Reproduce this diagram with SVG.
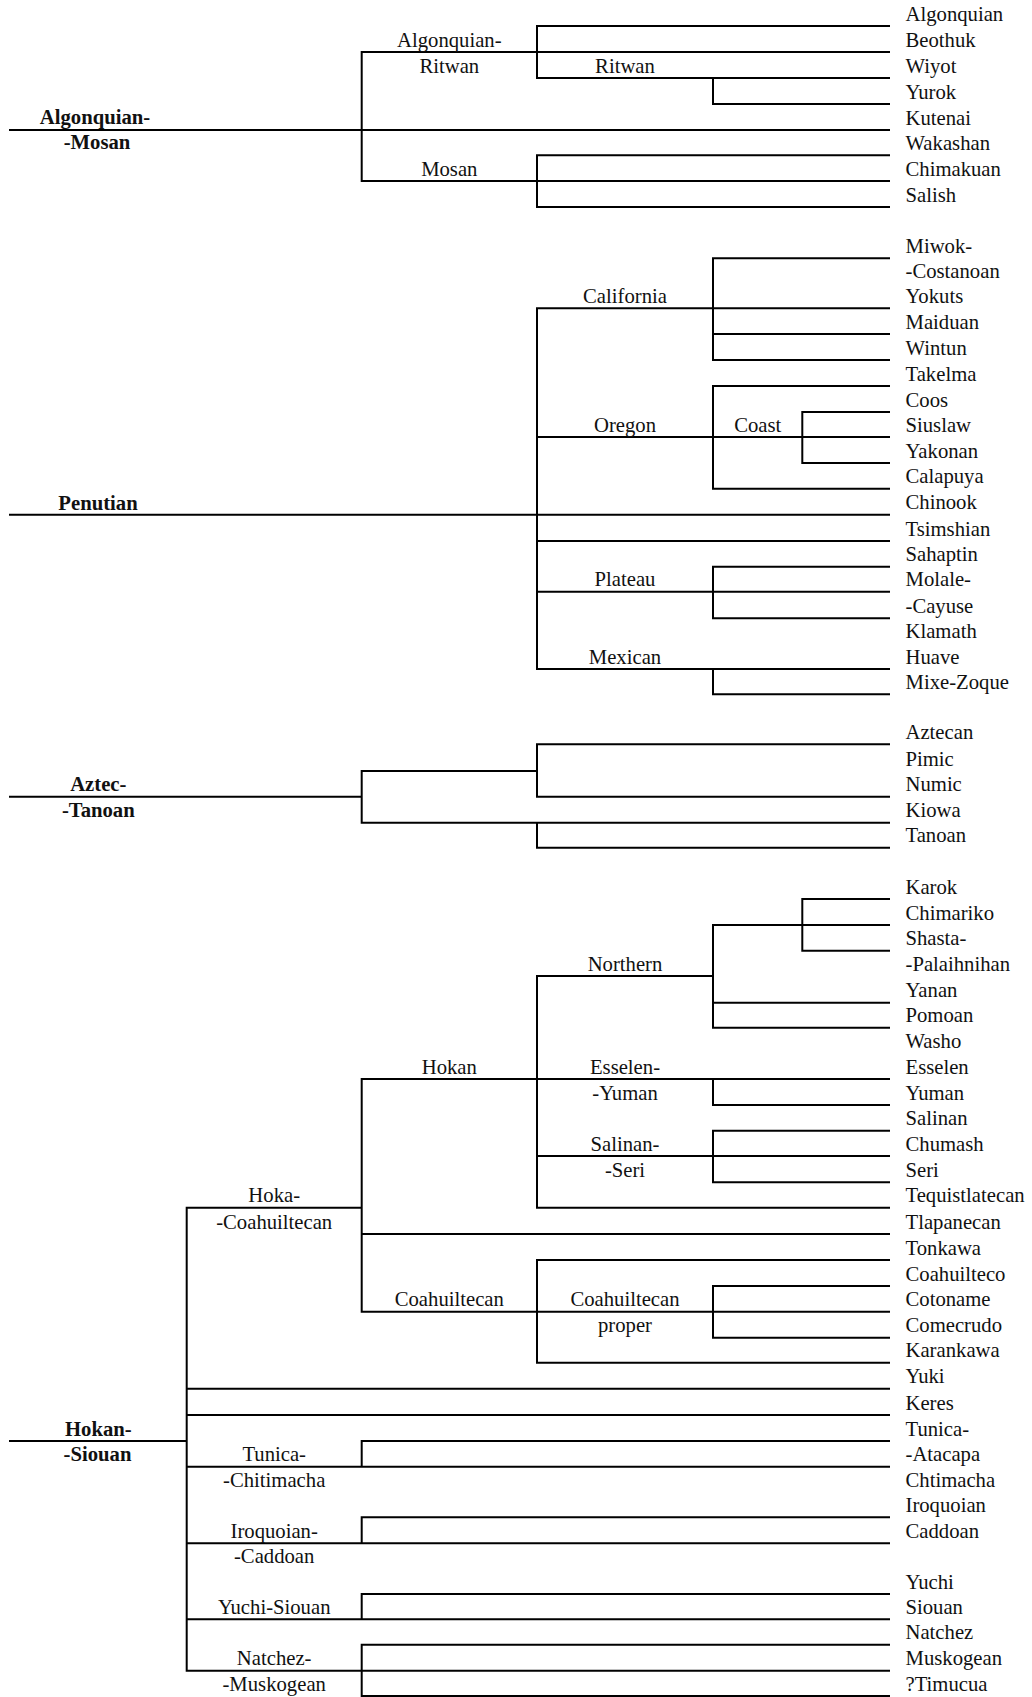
<svg xmlns="http://www.w3.org/2000/svg" width="1032" height="1697" viewBox="0 0 1032 1697">
<style>
text{font-family:"Liberation Serif","Times New Roman",serif;font-size:20.7px;fill:#111}
.leaf{text-anchor:start}
.grp{text-anchor:middle}
.fam{text-anchor:middle;font-weight:bold}
.c path{fill:none;stroke:#000;stroke-width:2;stroke-linecap:square}
</style>
<rect width="1032" height="1697" fill="#fff"/>
<g class="c" id="connectors">
<path d="M10,130H889M361.7,52V181M361.7,52H889M361.7,181H889M537,26V78M537,26H889M537,78H889M713,78V104H889M537,155.3V207M537,155.3H889M537,207H889"/>
<path d="M10,514.7H889M537,308.3V669M537,308.3H889M713,258.3V360M713,258.3H889M713,334H889M713,360H889M713,386V488.7M713,386H889M537,437H889M713,488.7H889M802.3,412V463M802.3,412H889M802.3,463H889M537,541H889M713,566.7V618.3M713,566.7H889M537,591.7H889M713,618.3H889M537,669H889M713,669V694.3H889"/>
<path d="M10,796.7H361.7M361.7,771V822.7M361.7,771H537M537,744.3V796.7M537,744.3H889M537,796.7H889M361.7,822.7H889M537,822.7V847.7H889"/>
<path d="M10,1441H186.7M186.7,1207.7V1670.7M186.7,1207.7H361.7M361.7,1079V1311.7M361.7,1079H889M537,976V1207.7M537,976H713M713,925V1027.7M713,925H889M713,1002.7H889M713,1027.7H889M802.3,899V950.7M802.3,899H889M802.3,950.7H889M713,1079V1105H889M713,1130.7V1182.3M713,1130.7H889M537,1156H889M713,1182.3H889M537,1207.7H889M361.7,1234H889M537,1260V1362.7M537,1260H889M361.7,1311.7H889M713,1286V1337.7M713,1286H889M713,1337.7H889M537,1362.7H889M186.7,1388.7H889M186.7,1415H889M361.7,1441V1466.7M361.7,1441H889M186.7,1466.7H889M361.7,1517.3V1543.3M361.7,1517.3H889M186.7,1543.3H889M361.7,1594V1619.3M361.7,1594H889M186.7,1619.3H889M361.7,1644.7V1696M361.7,1644.7H889M186.7,1670.7H889M361.7,1696H889"/>
</g>
<g id="families">
<g id="n-algonquian-mosan"><text class="fam" x="95" y="124">Algonquian-</text><text class="fam" x="97" y="149">-Mosan</text></g>
<g id="n-penutian"><text class="fam" x="98" y="509.5">Penutian</text></g>
<g id="n-aztec-tanoan"><text class="fam" x="98.3" y="790.5">Aztec-</text><text class="fam" x="98.3" y="817">-Tanoan</text></g>
<g id="n-hokan-siouan"><text class="fam" x="98.3" y="1435.7">Hokan-</text><text class="fam" x="97.5" y="1461.2">-Siouan</text></g>
</g>
<g id="groups">
<g id="n-algonquian-ritwan"><text class="grp" x="449.3" y="46.7">Algonquian-</text><text class="grp" x="449.3" y="72.7">Ritwan</text></g>
<g id="n-ritwan"><text class="grp" x="625" y="72.7">Ritwan</text></g>
<g id="n-mosan"><text class="grp" x="449.3" y="175.7">Mosan</text></g>
<g id="n-california"><text class="grp" x="625" y="303">California</text></g>
<g id="n-oregon"><text class="grp" x="625" y="431.7">Oregon</text></g>
<g id="n-coast"><text class="grp" x="757.7" y="431.7">Coast</text></g>
<g id="n-plateau"><text class="grp" x="625" y="586.4">Plateau</text></g>
<g id="n-mexican"><text class="grp" x="625" y="663.7">Mexican</text></g>
<g id="n-northern"><text class="grp" x="625" y="970.7">Northern</text></g>
<g id="n-hokan"><text class="grp" x="449.3" y="1073.7">Hokan</text></g>
<g id="n-esselen-yuman"><text class="grp" x="625" y="1073.7">Esselen-</text><text class="grp" x="625" y="1099.7">-Yuman</text></g>
<g id="n-salinan-seri"><text class="grp" x="625" y="1150.7">Salinan-</text><text class="grp" x="625" y="1177">-Seri</text></g>
<g id="n-hoka-coahuiltecan"><text class="grp" x="274.2" y="1202.4">Hoka-</text><text class="grp" x="274.2" y="1228.7">-Coahuiltecan</text></g>
<g id="n-coahuiltecan"><text class="grp" x="449.3" y="1306.4">Coahuiltecan</text></g>
<g id="n-coahuiltecan-proper"><text class="grp" x="625" y="1306.4">Coahuiltecan</text><text class="grp" x="625" y="1332.4">proper</text></g>
<g id="n-tunica-chitimacha"><text class="grp" x="274.2" y="1461.4">Tunica-</text><text class="grp" x="274.2" y="1486.7">-Chitimacha</text></g>
<g id="n-iroquoian-caddoan"><text class="grp" x="274.2" y="1538">Iroquoian-</text><text class="grp" x="274.2" y="1563.4">-Caddoan</text></g>
<g id="n-yuchi-siouan"><text class="grp" x="274.2" y="1614">Yuchi-Siouan</text></g>
<g id="n-natchez-muskogean"><text class="grp" x="274.2" y="1665.4">Natchez-</text><text class="grp" x="274.2" y="1690.7">-Muskogean</text></g>
</g>
<g id="leaves">
<g id="l-algonquian"><text class="leaf" x="905.5" y="20.7">Algonquian</text></g>
<g id="l-beothuk"><text class="leaf" x="905.5" y="46.7">Beothuk</text></g>
<g id="l-wiyot"><text class="leaf" x="905.5" y="72.7">Wiyot</text></g>
<g id="l-yurok"><text class="leaf" x="905.5" y="98.7">Yurok</text></g>
<g id="l-kutenai"><text class="leaf" x="905.5" y="124.7">Kutenai</text></g>
<g id="l-wakashan"><text class="leaf" x="905.5" y="150">Wakashan</text></g>
<g id="l-chimakuan"><text class="leaf" x="905.5" y="175.7">Chimakuan</text></g>
<g id="l-salish"><text class="leaf" x="905.5" y="201.7">Salish</text></g>
<g id="l-miwok-costanoan"><text class="leaf" x="905.5" y="253">Miwok-</text><text class="leaf" x="905.5" y="278.2">-Costanoan</text></g>
<g id="l-yokuts"><text class="leaf" x="905.5" y="303">Yokuts</text></g>
<g id="l-maiduan"><text class="leaf" x="905.5" y="328.7">Maiduan</text></g>
<g id="l-wintun"><text class="leaf" x="905.5" y="354.7">Wintun</text></g>
<g id="l-takelma"><text class="leaf" x="905.5" y="380.7">Takelma</text></g>
<g id="l-coos"><text class="leaf" x="905.5" y="406.7">Coos</text></g>
<g id="l-siuslaw"><text class="leaf" x="905.5" y="431.7">Siuslaw</text></g>
<g id="l-yakonan"><text class="leaf" x="905.5" y="457.7">Yakonan</text></g>
<g id="l-calapuya"><text class="leaf" x="905.5" y="483.4">Calapuya</text></g>
<g id="l-chinook"><text class="leaf" x="905.5" y="509.4">Chinook</text></g>
<g id="l-tsimshian"><text class="leaf" x="905.5" y="535.7">Tsimshian</text></g>
<g id="l-sahaptin"><text class="leaf" x="905.5" y="561.4">Sahaptin</text></g>
<g id="l-molale-cayuse"><text class="leaf" x="905.5" y="586.4">Molale-</text><text class="leaf" x="905.5" y="613">-Cayuse</text></g>
<g id="l-klamath"><text class="leaf" x="905.5" y="638.4">Klamath</text></g>
<g id="l-huave"><text class="leaf" x="905.5" y="663.7">Huave</text></g>
<g id="l-mixe-zoque"><text class="leaf" x="905.5" y="689">Mixe-Zoque</text></g>
<g id="l-aztecan"><text class="leaf" x="905.5" y="739">Aztecan</text></g>
<g id="l-pimic"><text class="leaf" x="905.5" y="765.7">Pimic</text></g>
<g id="l-numic"><text class="leaf" x="905.5" y="791.4">Numic</text></g>
<g id="l-kiowa"><text class="leaf" x="905.5" y="817.4">Kiowa</text></g>
<g id="l-tanoan"><text class="leaf" x="905.5" y="842.4">Tanoan</text></g>
<g id="l-karok"><text class="leaf" x="905.5" y="893.7">Karok</text></g>
<g id="l-chimariko"><text class="leaf" x="905.5" y="919.7">Chimariko</text></g>
<g id="l-shasta-palaihnihan"><text class="leaf" x="905.5" y="945.4">Shasta-</text><text class="leaf" x="905.5" y="970.7">-Palaihnihan</text></g>
<g id="l-yanan"><text class="leaf" x="905.5" y="997.4">Yanan</text></g>
<g id="l-pomoan"><text class="leaf" x="905.5" y="1022.4">Pomoan</text></g>
<g id="l-washo"><text class="leaf" x="905.5" y="1048">Washo</text></g>
<g id="l-esselen"><text class="leaf" x="905.5" y="1073.7">Esselen</text></g>
<g id="l-yuman"><text class="leaf" x="905.5" y="1099.7">Yuman</text></g>
<g id="l-salinan"><text class="leaf" x="905.5" y="1125.4">Salinan</text></g>
<g id="l-chumash"><text class="leaf" x="905.5" y="1150.7">Chumash</text></g>
<g id="l-seri"><text class="leaf" x="905.5" y="1177">Seri</text></g>
<g id="l-tequistlatecan"><text class="leaf" x="905.5" y="1202.4">Tequistlatecan</text></g>
<g id="l-tlapanecan"><text class="leaf" x="905.5" y="1228.7">Tlapanecan</text></g>
<g id="l-tonkawa"><text class="leaf" x="905.5" y="1254.7">Tonkawa</text></g>
<g id="l-coahuilteco"><text class="leaf" x="905.5" y="1280.7">Coahuilteco</text></g>
<g id="l-cotoname"><text class="leaf" x="905.5" y="1306.4">Cotoname</text></g>
<g id="l-comecrudo"><text class="leaf" x="905.5" y="1332.4">Comecrudo</text></g>
<g id="l-karankawa"><text class="leaf" x="905.5" y="1357.4">Karankawa</text></g>
<g id="l-yuki"><text class="leaf" x="905.5" y="1383.4">Yuki</text></g>
<g id="l-keres"><text class="leaf" x="905.5" y="1409.7">Keres</text></g>
<g id="l-tunica-atacapa"><text class="leaf" x="905.5" y="1435.7">Tunica-</text><text class="leaf" x="905.5" y="1461.4">-Atacapa</text></g>
<g id="l-chtimacha"><text class="leaf" x="905.5" y="1486.7">Chtimacha</text></g>
<g id="l-iroquoian"><text class="leaf" x="905.5" y="1512">Iroquoian</text></g>
<g id="l-caddoan"><text class="leaf" x="905.5" y="1538">Caddoan</text></g>
<g id="l-yuchi"><text class="leaf" x="905.5" y="1588.7">Yuchi</text></g>
<g id="l-siouan"><text class="leaf" x="905.5" y="1614">Siouan</text></g>
<g id="l-natchez"><text class="leaf" x="905.5" y="1639.4">Natchez</text></g>
<g id="l-muskogean"><text class="leaf" x="905.5" y="1665.4">Muskogean</text></g>
<g id="l-timucua"><text class="leaf" x="905.5" y="1690.7">?Timucua</text></g>
</g>
</svg>
